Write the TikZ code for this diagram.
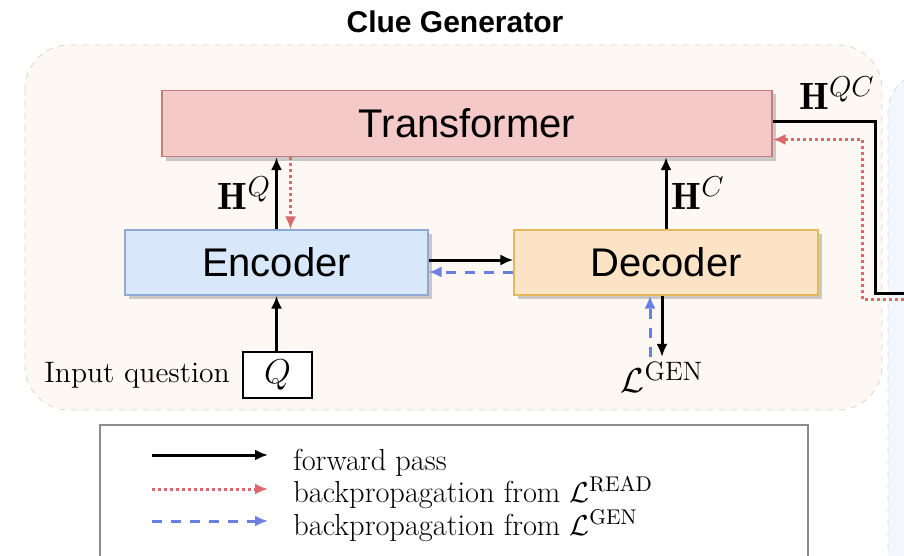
\documentclass[tikz,border=0pt]{standalone}
\usepackage{amssymb,amsmath}
\usepackage{fontspec}
\setsansfont{Liberation Sans}
\usepackage{tikz}
\usetikzlibrary{shapes,arrows,arrows.meta,shadows,positioning}
\definecolor{transfill}{HTML}{F6C9C9}
\definecolor{transline}{HTML}{C97C7C}
\definecolor{encfill}{HTML}{D8E7F9}
\definecolor{encline}{HTML}{8DA9D4}
\definecolor{decfill}{HTML}{FDE3C6}
\definecolor{decline}{HTML}{E6B85C}
\definecolor{genfill}{HTML}{FDF8F3}
\definecolor{genline}{HTML}{DDD5CC}
\definecolor{readcol}{HTML}{D9696B}
\definecolor{gencol}{HTML}{6B7FE0}
\definecolor{rightfill}{HTML}{F3F6FC}
\definecolor{rightline}{HTML}{D3DBEA}
\tikzstyle{block} = [draw, rectangle, line width=0.6pt, font=\sffamily\fontsize{20}{24}\selectfont, minimum height=33pt, drop shadow={shadow xshift=2pt, shadow yshift=-2pt, fill=black!40, opacity=0.5}]
\tikzstyle{serif} = [font=\fontsize{14.8}{17}\selectfont, inner sep=1pt]
\tikzstyle{legtext} = [font=\fontsize{15.2}{18}\selectfont, inner sep=1pt, anchor=base west]
\tikzstyle{mathlbl} = [font=\fontsize{19}{22}\selectfont, inner sep=2pt]
\tikzstyle{fwd} = [->, black, line width=1.5pt]
\tikzstyle{bread} = [->, readcol, line width=1.5pt, dash pattern=on 1.5pt off 1.5pt]
\tikzstyle{bgen} = [->, gencol, line width=1.5pt, dash pattern=on 5pt off 4.5pt]
\begin{document}
\begin{tikzpicture}[x=0.5pt, y=-0.5pt, auto, >={Latex[length=6.5pt,width=5.5pt]}]
    \useasboundingbox (0,0) rectangle (904,556);
    \clip (0,0) rectangle (904,556);
 % containers
    \draw [rightline, fill=rightfill, dashed, rounded corners=20pt] (888,72) rectangle (1100,700);
    \draw [genline, fill=genfill, dashed, rounded corners=22pt] (25,45) rectangle (882,410);
    \node [font=\sffamily\bfseries\fontsize{15}{18}\selectfont, name=title] at (455,22) {Clue Generator};
 % nodes
    \node [block, fill=transfill, draw=transline, minimum width=305pt, name=trans] at (467,123.5) {Transformer};
    \node [block, fill=encfill, draw=encline, minimum width=151.5pt, minimum height=32.5pt, name=enc] at (276.5,262.5) {Encoder};
    \node [block, fill=decfill, draw=decline, minimum width=152pt, minimum height=32.5pt, name=dec] at (666,262.5) {Decoder};
    \node [draw, line width=0.8pt, fill=white, minimum width=34.5pt, minimum height=23pt, mathlbl, name=q] at (277.5,375) {$Q$};
    \node [serif, left=5pt of q, name=input] {Input question};
    \node [mathlbl, name=lgen] at (662,377) {$\mathcal{L}^{\text{GEN}}$};
    \node [mathlbl, name=hqc] at (837,93) {$\mathbf{H}^{QC}$};
    \coordinate (qcbend) at (875,293);
    \coordinate (qcout) at (910,293);
    \coordinate (readin) at (910,299);
    \coordinate (readbend) at (862,299);
    % edges
    \draw [fwd] (enc.south |- q.north) -- (enc.south);
    \draw [fwd] (enc.north) -- node[mathlbl] {$\mathbf{H}^{Q}$} (enc.north |- trans.south);
    \draw [bread] ([xshift=7pt]enc.north |- trans.south) -- ([xshift=7pt]enc.north);
    \draw [fwd] (dec.north) -- node[mathlbl, swap] {$\mathbf{H}^{C}$} (dec.north |- trans.south);
    \draw [fwd] ([yshift=1.25pt]enc.east) -- ([yshift=1.25pt]dec.east -| dec.west);
    \draw [bgen] ([yshift=-4.75pt]dec.west) -- ([yshift=-4.75pt]enc.east);
    \draw [fwd] (dec.south -| lgen.north) -- (lgen.north);
    \draw [bgen] ([xshift=-6pt]lgen.north) -- ([xshift=-6pt]lgen.north |- dec.south);
    \draw [-, black, line width=1.5pt] ([yshift=0.75pt]trans.east) -| (qcbend) -- (qcout);
    \draw [bread] (readin) -- (readbend) |- ([yshift=-8pt]trans.east);
 % legend
    \draw [black!45, fill=white, line width=0.8pt] (100,425) rectangle (808,600);
    \node [legtext, name=legfwd] at (291,470) {forward pass};
    \node [legtext, name=legread] at (291,502) {backpropagation from $\mathcal{L}^{\text{READ}}$};
    \node [legtext, name=leggen] at (291,535) {backpropagation from $\mathcal{L}^{\text{GEN}}$};
    \coordinate (f1) at (152,455);
    \coordinate (f2) at (268,455);
    \coordinate (r1) at (152,489);
    \coordinate (r2) at (268,489);
    \coordinate (g1) at (152,521);
    \coordinate (g2) at (268,521);
    \draw [fwd] (f1) -- (f2);
    \draw [bread] (r1) -- (r2);
    \draw [bgen] (g1) -- (g2);
\end{tikzpicture}
\end{document}
